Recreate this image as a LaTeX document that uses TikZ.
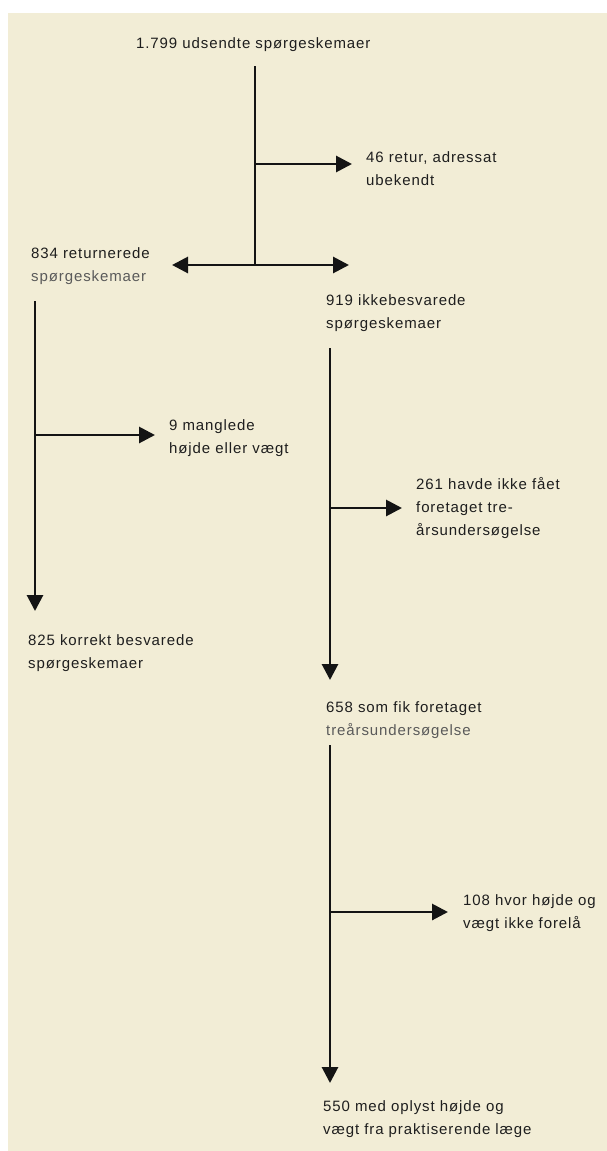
\documentclass[tikz,border=0pt]{standalone}
\usepackage{fontspec}
\setmainfont{Liberation Sans}[LetterSpace=6]
\usetikzlibrary{arrows.meta}
\definecolor{bg}{RGB}{242,237,214}
\definecolor{txt}{RGB}{30,30,30}
\definecolor{txtlight}{RGB}{90,90,90}
\begin{document}
\begin{tikzpicture}[x=1pt,y=-1pt,
  lbl/.style={anchor=base west, inner sep=0pt, align=left, font=\fontsize{15}{23}\selectfont, text=txt},
  line/.style={line width=2.9pt, draw=black!92},
  flow/.style={line, -{Triangle[length=16pt,width=16pt]}},
  both/.style={line, {Triangle[length=16pt,width=16pt]}-{Triangle[length=16pt,width=16pt]}}]
\useasboundingbox (0,0) rectangle (607,1151);
\fill[white] (0,0) rectangle (607,1151);
\fill[bg] (8,13) rectangle (607,1151);

% texts (anchored at the baseline of their last line)
\node[lbl] (n1799) at (136,48) {1.799 udsendte spørgeskemaer};
\node[lbl] (n46) at (366,185) {46 retur, adressat\\ubekendt};
\node[lbl] (n834) at (31,281) {834 returnerede\\\textcolor{txtlight}{spørgeskemaer}};
\node[lbl] (n919) at (326,328) {919 ikkebesvarede\\spørgeskemaer};
\node[lbl] (n9) at (169,453) {9 manglede\\højde eller vægt};
\node[lbl] (n261) at (416,535) {261 havde ikke fået\\foretaget tre-\\årsundersøgelse};
\node[lbl] (n825) at (28,668) {825 korrekt besvarede\\spørgeskemaer};
\node[lbl] (n658) at (326,735) {658 som fik foretaget\\\textcolor{txtlight}{treårsundersøgelse}};
\node[lbl] (n108) at (463,928) {108 hvor højde og\\vægt ikke forelå};
\node[lbl] (n550) at (323,1134) {550 med oplyst højde og\\vægt fra praktiserende læge};

% connector points
\coordinate (a0) at (255,66);
\coordinate (a1) at (255,164);
\coordinate (a2) at (255,265);
\coordinate (t46) at (352,164);
\coordinate (t834) at (172,265);
\coordinate (t919) at (349,265);
\coordinate (b0) at (35,301);
\coordinate (b1) at (35,435);
\coordinate (t9) at (155,435);
\coordinate (t825) at (35,611);
\coordinate (c0) at (330,348);
\coordinate (c1) at (330,508);
\coordinate (t261) at (402,508);
\coordinate (t658) at (330,680);
\coordinate (d0) at (330,745);
\coordinate (d1) at (330,912);
\coordinate (t108) at (448,912);
\coordinate (t550) at (330,1083);

\draw[line] (a0) -- (a2);
\draw[flow] (a1) -- (t46);
\draw[both] (t834) -- (t919);
\draw[flow] (b0) -- (t825);
\draw[flow] (b1) -- (t9);
\draw[flow] (c0) -- (t658);
\draw[flow] (c1) -- (t261);
\draw[flow] (d0) -- (t550);
\draw[flow] (d1) -- (t108);
\end{tikzpicture}
\end{document}
